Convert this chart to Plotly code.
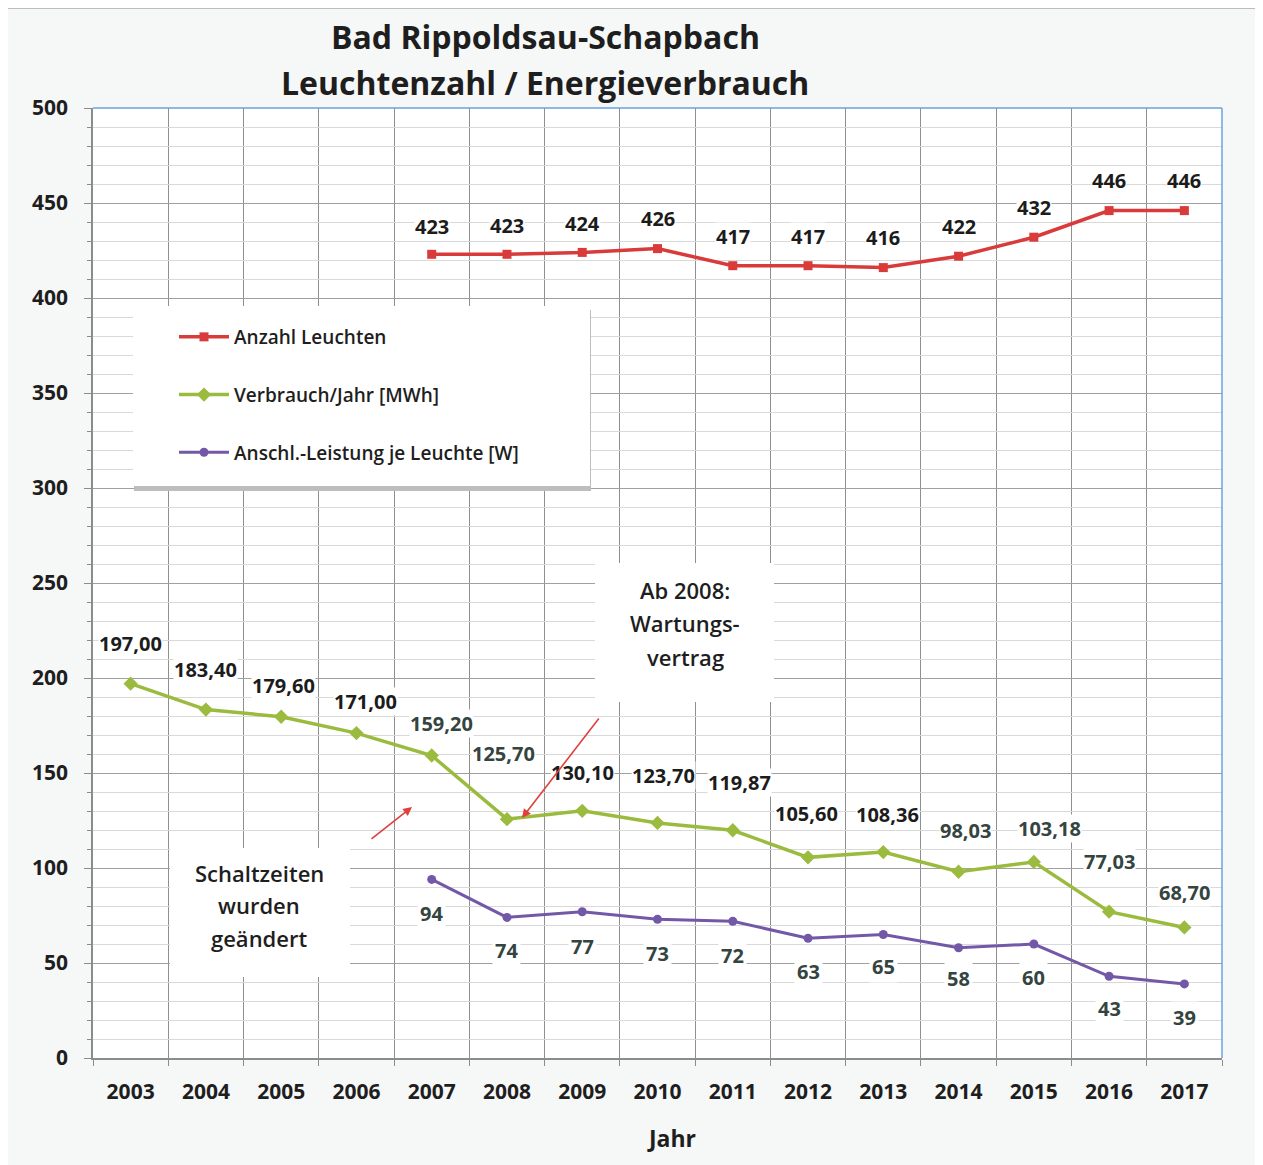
import plotly.graph_objects as go

# ---------------- data ----------------
years = list(range(2003, 2018))
years_leuchten = list(range(2007, 2018))
anzahl_leuchten = [423, 423, 424, 426, 417, 417, 416, 422, 432, 446, 446]
verbrauch_mwh = [197.00, 183.40, 179.60, 171.00, 159.20, 125.70, 130.10,
                 123.70, 119.87, 105.60, 108.36, 98.03, 103.18, 77.03, 68.70]
leistung_w = [94, 74, 77, 73, 72, 63, 65, 58, 60, 43, 39]
y_ticks = [0, 50, 100, 150, 200, 250, 300, 350, 400, 450, 500]

series_names = ["Anzahl Leuchten", "Verbrauch/Jahr [MWh]",
                "Anschl.-Leistung je Leuchte [W]"]
title_lines = ["Bad Rippoldsau-Schapbach", "Leuchtenzahl / Energieverbrauch"]
note_1 = ["Ab 2008:", "Wartungs-", "vertrag"]
note_2 = ["Schaltzeiten", "wurden", "geändert"]

# ---------------- style ----------------
FONT = "Open Sans"
RED, GREEN, PURPLE = "#d93a3a", "#9bbb3f", "#7458a8"
LABEL_DARK = "#1c1c1c"
LABEL_SLATE = "#34443f"

# label offsets in px (xshift, yshift)
red_off = [(0, 28), (0, 29), (0, 29), (0, 30), (0, 29), (0, 29),
           (0, 30), (0, 30), (0, 30), (0, 30), (0, 30)]
green_off = [(0, 40), (0, 40), (2, 31), (9, 32), (10, 32), (-3, 66), (0, 38),
             (6, 47), (7, 48), (-2, 44), (4, 38), (7, 41), (16, 33),
             (0, 50), (0, 35)]
green_col = [LABEL_DARK, LABEL_DARK, LABEL_DARK, LABEL_DARK, LABEL_SLATE,
             LABEL_SLATE, LABEL_DARK, LABEL_DARK, LABEL_DARK, LABEL_DARK,
             LABEL_DARK, LABEL_SLATE, LABEL_SLATE, LABEL_SLATE, LABEL_SLATE]
purple_off = [(0, -34), (0, -33), (0, -35), (0, -34), (0, -34), (0, -33),
              (0, -32), (0, -31), (0, -33), (0, -32), (0, -34)]

OFF = 8  # page body margin
W, H = 1263 - OFF, 1165 - OFF
ML, MR, MT, MB = 93 - OFF, 41, 108 - OFF, 107
PW, PH = W - ML - MR, H - MT - MB


def px(x):
    return (x - OFF - ML) / PW


def py(y):
    return (OFF + H - MB - y) / PH


def de(v):
    return f"{v:.2f}".replace(".", ",")


fig = go.Figure()
fig.add_trace(go.Scatter(
    x=years_leuchten, y=anzahl_leuchten, name=series_names[0],
    mode="lines+markers", legendgroup="a",
    line=dict(color=RED, width=3.5),
    marker=dict(symbol="square", size=9, color=RED)))
fig.add_trace(go.Scatter(
    x=years, y=verbrauch_mwh, name=series_names[1],
    mode="lines+markers", legendgroup="b",
    line=dict(color=GREEN, width=3.5),
    marker=dict(symbol="diamond", size=11, color=GREEN)))
fig.add_trace(go.Scatter(
    x=years_leuchten, y=leistung_w, name=series_names[2],
    mode="lines+markers", legendgroup="c",
    line=dict(color=PURPLE, width=3),
    marker=dict(symbol="circle", size=9, color=PURPLE)))

ann = []
lab_font = dict(family=FONT, size=20, weight="bold")
for xv, yv, (dx, dy) in zip(years_leuchten, anzahl_leuchten, red_off):
    ann.append(dict(x=xv, y=yv, xref="x", yref="y", text=str(yv),
                    showarrow=False, xshift=dx, yshift=dy, bgcolor="white",
                    borderpad=0, font=dict(lab_font, color=LABEL_DARK)))
for xv, yv, (dx, dy), c in zip(years, verbrauch_mwh, green_off, green_col):
    ann.append(dict(x=xv, y=yv, xref="x", yref="y", text=de(yv),
                    showarrow=False, xshift=dx, yshift=dy, bgcolor="white",
                    borderpad=0, font=dict(lab_font, color=c)))
for xv, yv, (dx, dy) in zip(years_leuchten, leistung_w, purple_off):
    ann.append(dict(x=xv, y=yv, xref="x", yref="y", text=str(yv),
                    showarrow=False, xshift=dx, yshift=dy, bgcolor="white",
                    borderpad=2, font=dict(lab_font, color=LABEL_SLATE)))

# title
for t, yy in zip(title_lines, [37, 83]):
    ann.append(dict(x=px(545), y=py(yy), xref="paper", yref="paper", text=t,
                    showarrow=False, xanchor="center", yanchor="middle",
                    font=dict(family=FONT, size=32, weight="bold",
                              color="#1e1e1e")))

# note boxes text
for t, yy in zip(note_1, [590, 623, 657]):
    ann.append(dict(x=px(685), y=py(yy), xref="paper", yref="paper", text=t,
                    showarrow=False, xanchor="center", yanchor="middle",
                    font=dict(family=FONT, size=22, weight=600,
                              color="#1e1e1e")))
for t, yy in zip(note_2, [873, 905, 938]):
    ann.append(dict(x=px(259), y=py(yy), xref="paper", yref="paper", text=t,
                    showarrow=False, xanchor="center", yanchor="middle",
                    font=dict(family=FONT, size=22, weight=600,
                              color="#1e1e1e")))

# x-axis title
ann.append(dict(x=px(671), y=py(1138), xref="paper", yref="paper",
                text="Jahr", showarrow=False, xanchor="center",
                yanchor="middle",
                font=dict(family=FONT, size=23, weight="bold",
                          color="#1e1e1e")))

# red arrows
ann.append(dict(x=px(522), y=py(818), xref="paper", yref="paper", text="",
                showarrow=True, ax=78, ay=-101, axref="pixel", ayref="pixel",
                arrowcolor="#e0403c", arrowwidth=1.6, arrowhead=2,
                arrowsize=1.1))
ann.append(dict(x=px(412), y=py(807), xref="paper", yref="paper", text="",
                showarrow=True, ax=-42, ay=33, axref="pixel", ayref="pixel",
                arrowcolor="#e0403c", arrowwidth=1.6, arrowhead=2,
                arrowsize=1.1))

shapes = []
# legend shadow + box
shapes.append(dict(type="rect", xref="paper", yref="paper",
                   x0=px(134), x1=px(591), y0=py(491), y1=py(310),
                   fillcolor="#bdbdbd", line=dict(width=0), layer="above"))
shapes.append(dict(type="rect", xref="paper", yref="paper",
                   x0=px(133), x1=px(590), y0=py(486), y1=py(306),
                   fillcolor="white", line=dict(width=0), layer="above"))
# note boxes
shapes.append(dict(type="rect", xref="paper", yref="paper",
                   x0=px(595), x1=px(774), y0=py(702), y1=py(563),
                   fillcolor="white", line=dict(width=0), layer="above"))
shapes.append(dict(type="rect", xref="paper", yref="paper",
                   x0=px(170), x1=px(350), y0=py(977), y1=py(848),
                   fillcolor="white", line=dict(width=0), layer="above"))
# blue frame top / right
shapes.append(dict(type="line", xref="paper", yref="paper", x0=0, x1=1,
                   y0=1, y1=1, line=dict(color="#6aa3dc", width=1.5),
                   layer="above"))
shapes.append(dict(type="line", xref="paper", yref="paper", x0=1, x1=1,
                   y0=0, y1=1, line=dict(color="#6aa3dc", width=1.5),
                   layer="above"))
# scan edge line at top
shapes.append(dict(type="line", xref="paper", yref="paper", x0=px(8),
                   x1=px(1263), y0=py(8), y1=py(8),
                   line=dict(color="#a9a9a9", width=1.5), layer="above"))

fig.update_layout(
    width=W, height=H,
    margin=dict(l=ML, r=MR, t=MT, b=MB),
    paper_bgcolor="#f6f7f7", plot_bgcolor="white",
    font=dict(family=FONT, color="#1e1e1e"),
    showlegend=True,
    legend=dict(x=px(174), y=py(318), xanchor="left", yanchor="top",
                bgcolor="rgba(0,0,0,0)", borderwidth=0,
                font=dict(family=FONT, size=19, weight=600, color="#1e1e1e"),
                tracegroupgap=30, itemwidth=50, traceorder="grouped"),
    annotations=ann, shapes=shapes,
    xaxis=dict(range=[2002.5, 2017.5], tickvals=years,
               ticktext=[str(y) for y in years], showgrid=False,
               ticks="", ticklabelstandoff=14,
               tickfont=dict(family=FONT, size=21, weight="bold",
                             color="#1e1e1e"),
               showline=True, linecolor="#8c8c8c", linewidth=1.5,
               zeroline=False,
               minor=dict(tick0=2002.5, dtick=1, showgrid=True,
                          gridcolor="#8f8f8f", gridwidth=1,
                          ticks="outside", ticklen=6, tickcolor="#8c8c8c")),
    yaxis=dict(range=[0, 500], tickvals=y_ticks, showgrid=True,
               gridcolor="#a0a0a0", gridwidth=1, ticks="outside", ticklen=7,
               tickcolor="#8c8c8c", ticklabelstandoff=12,
               tickfont=dict(family=FONT, size=21, weight="bold",
                             color="#1e1e1e"),
               showline=True, linecolor="#8c8c8c", linewidth=1.5,
               zeroline=False,
               minor=dict(dtick=10, showgrid=True, gridcolor="#d9d9d9",
                          gridwidth=1, ticks="outside", ticklen=4,
                          tickcolor="#8c8c8c")),
)

fig.write_html("out.html")
